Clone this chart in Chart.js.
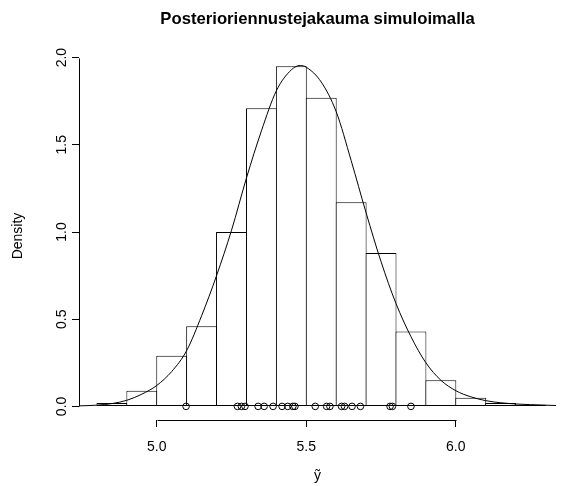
<!DOCTYPE html>
<html>
<head>
<meta charset="utf-8">
<title>Posterioriennustejakauma simuloimalla</title>
<script src="https://cdn.jsdelivr.net/npm/chart.js@4.4.1/dist/chart.umd.min.js"></script>
<style>
  html, body { margin: 0; padding: 0; background: #fff; }
  canvas { display: block; }
</style>
</head>
<body>
<canvas id="myChart" width="561" height="486"></canvas>
<script>
// histogram: left edge of each bin and its density
var binStarts = [4.8, 4.9, 5.0, 5.1, 5.2, 5.3, 5.4, 5.5, 5.6, 5.7, 5.8, 5.9, 6.0, 6.1, 6.2];
var densities = [0.02, 0.09, 0.29, 0.46, 1.00, 1.71, 1.95, 1.77, 1.17, 0.88, 0.43, 0.15, 0.05, 0.02, 0.01];
var binWidth = 0.1;

// density curve
var curveX = [4.74, 4.80, 4.85, 4.90, 4.95, 5.00, 5.05, 5.10, 5.15, 5.20, 5.25, 5.30, 5.35, 5.40, 5.45, 5.48,
  5.50, 5.55, 5.60, 5.65, 5.70, 5.75, 5.80, 5.85, 5.90, 5.95, 6.00, 6.05, 6.10, 6.15, 6.20, 6.25, 6.30, 6.335];
var curveY = [0.003, 0.007, 0.016, 0.035, 0.07, 0.12, 0.20, 0.32, 0.52, 0.75, 1.01, 1.31, 1.58, 1.81, 1.93, 1.955,
  1.945, 1.86, 1.69, 1.41, 1.11, 0.83, 0.59, 0.40, 0.25, 0.15, 0.09, 0.055, 0.033, 0.021, 0.014, 0.010, 0.007, 0.005];

// single draws shown as circles on the zero line
var draws = [5.098, 5.270, 5.283, 5.295, 5.339, 5.359, 5.389, 5.419, 5.438, 5.455, 5.462,
  5.530, 5.568, 5.579, 5.618, 5.628, 5.653, 5.681, 5.780, 5.788, 5.850];

var xTicks = [5.0, 5.5, 6.0];
var yTicks = [0, 0.5, 1.0, 1.5, 2.0];

var font = "'Liberation Sans', Arial, Helvetica, sans-serif";

// R style axes: the axis line only runs between the first and last tick
const rAxes = {
  id: "rAxes",
  afterDraw(chart) {
    const ctx = chart.ctx;
    const xs = chart.scales.x, ys = chart.scales.y, a = chart.chartArea;
    const yb = Math.round(a.bottom) + 0.5;
    const xl = Math.round(a.left) + 0.5;
    ctx.save();
    ctx.strokeStyle = "#000";
    ctx.lineWidth = 1;
    ctx.beginPath();
    ctx.moveTo(Math.round(xs.getPixelForValue(xTicks[0])) + 0.5, yb);
    ctx.lineTo(Math.round(xs.getPixelForValue(xTicks[xTicks.length - 1])) + 0.5, yb);
    ctx.moveTo(xl, Math.round(ys.getPixelForValue(yTicks[0])) + 0.5);
    ctx.lineTo(xl, Math.round(ys.getPixelForValue(yTicks[yTicks.length - 1])) + 0.5);
    ctx.stroke();
    ctx.restore();
  },
};

var ctx = document.getElementById("myChart").getContext("2d");
var chart = new Chart(ctx, {
  type: "bar",
  data: {
    datasets: [
      {
        type: "scatter",
        data: draws.map((v) => ({ x: v, y: 0 })),
        pointStyle: "circle",
        pointRadius: 3.3,
        pointBorderWidth: 1,
        borderColor: "#000",
        backgroundColor: "rgba(0,0,0,0)",
        order: 1,
      },
      {
        type: "line",
        data: curveX.map((v, i) => ({ x: v, y: curveY[i] })),
        borderColor: "#000",
        borderWidth: 1,
        pointRadius: 0,
        fill: false,
        cubicInterpolationMode: "monotone",
        order: 2,
      },
      {
        data: binStarts.map((v, i) => ({ x: v + binWidth / 2, y: densities[i] })),
        backgroundColor: "#fff",
        borderColor: "#000",
        borderWidth: 1,
        borderSkipped: false,
        barPercentage: 1.033,
        categoryPercentage: 1,
        inflateAmount: 0,
        order: 3,
      },
    ],
  },
  options: {
    responsive: false,
    animation: false,
    devicePixelRatio: 1,
    layout: { padding: { top: 0, right: 0, bottom: 0, left: 0 } },
    plugins: {
      legend: { display: false },
      tooltip: { enabled: false },
      title: {
        display: true,
        text: "Posterioriennustejakauma simuloimalla",
        fullSize: false,
        color: "#000",
        font: { family: font, size: 16.7, weight: "bold" },
        padding: { top: 9, bottom: 23 },
      },
    },
    scales: {
      x: {
        type: "linear",
        min: 4.74,
        max: 6.335,
        offset: false,
        afterBuildTicks: (scale) => {
          scale.ticks = xTicks.map((v) => ({ value: v }));
        },
        afterFit: (scale) => {
          scale.height = 66;
        },
        grid: { offset: false, drawOnChartArea: false, drawTicks: true, tickLength: 7, color: "#000" },
        border: { display: false },
        ticks: {
          color: "#000",
          font: { family: font, size: 14 },
          padding: 12,
          maxRotation: 0,
          callback: (v) => Number(v).toFixed(1),
        },
        title: {
          display: true,
          text: "ỹ",
          color: "#000",
          font: { family: font, size: 14 },
          padding: { top: 0, bottom: 1 },
        },
      },
      y: {
        min: -0.078,
        max: 2.032,
        afterBuildTicks: (scale) => {
          scale.ticks = yTicks.map((v) => ({ value: v }));
        },
        afterFit: (scale) => {
          scale.width = 79;
        },
        grid: { drawOnChartArea: false, drawTicks: true, tickLength: 7, color: "#000" },
        border: { display: false },
        ticks: {
          color: "#000",
          font: { family: font, size: 14 },
          padding: 0,
          minRotation: 90,
          maxRotation: 90,
          crossAlign: "center",
          callback: (v) => Number(v).toFixed(1),
        },
        title: {
          display: true,
          text: "Density",
          color: "#000",
          font: { family: font, size: 14 },
          padding: { top: 10, bottom: 0 },
        },
      },
    },
  },
  plugins: [rAxes],
});
</script>
</body>
</html>
